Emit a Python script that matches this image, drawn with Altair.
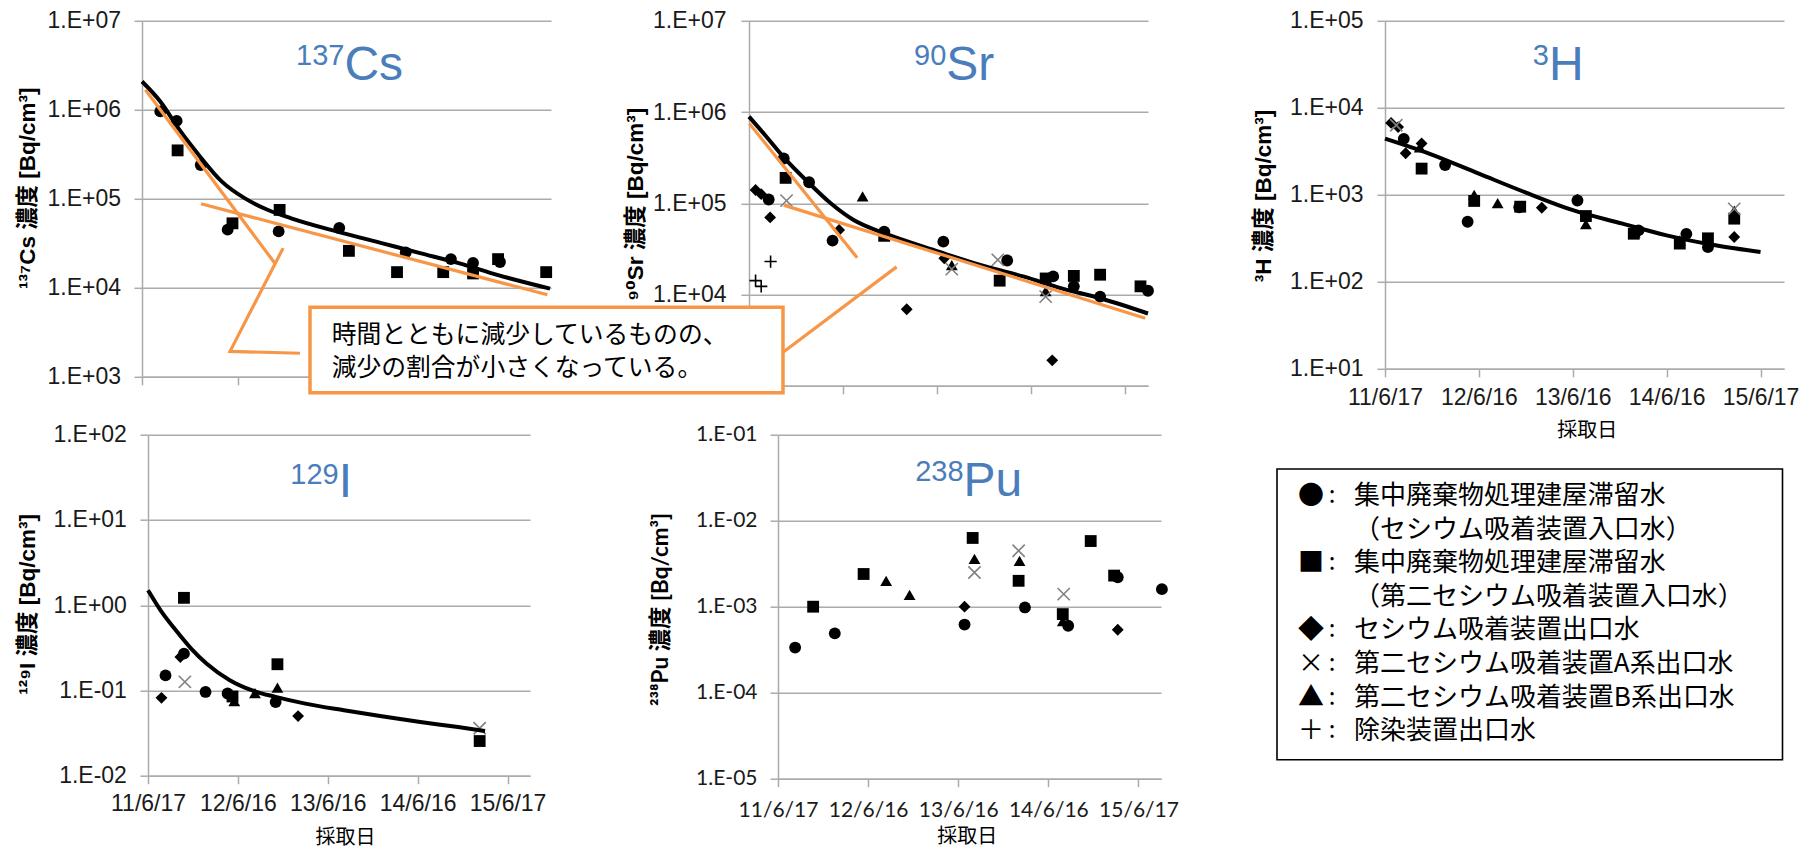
import altair as alt
import pandas as pd

# ---------------- data ----------------
X_TICK_VALUES = [0, 1, 2, 3, 4]          # years since 2011-06-17
X_TICK_LABELS = ["11/6/17", "12/6/16", "13/6/16", "14/6/16", "15/6/17"]
SERIES_CODES = ["c", "s", "d", "x", "t", "p"]   # ●, ■, ◆, ×, ▲, ＋

PANEL_SUPS = ["137", "90", "3", "129", "238"]
PANEL_MAINS = ["Cs", "Sr", "H", "I", "Pu"]
Y_TITLES = ["¹³⁷Cs 濃度 [Bq/cm³]", "⁹⁰Sr 濃度 [Bq/cm³]", "³H 濃度 [Bq/cm³]",
            "¹²⁹I 濃度 [Bq/cm³]", "²³⁸Pu 濃度 [Bq/cm³]"]
X_TITLE = "採取日"

CS_YLABELS = ["1.E+03", "1.E+04", "1.E+05", "1.E+06", "1.E+07"]
SR_YLABELS = ["", "1.E+04", "1.E+05", "1.E+06", "1.E+07"]   # 1.E+03 hidden by the callout
H_YLABELS = ["1.E+01", "1.E+02", "1.E+03", "1.E+04", "1.E+05"]
I_YLABELS = ["1.E-02", "1.E-01", "1.E+00", "1.E+01", "1.E+02"]
PU_YLABELS = ["1.E-05", "1.E-04", "1.E-03", "1.E-02", "1.E-01"]

# 137Cs
CS_T = [0.19, 0.36, 0.61, 0.89, 1.42, 2.05, 2.74, 3.21, 3.44, 3.72,
        0.37, 0.94, 1.43, 2.15, 2.65, 3.13, 3.44, 3.70, 4.20]
CS_V = [9.6e5, 7.5e5, 2.4e5, 4.5e4, 4.3e4, 4.7e4, 2.5e4, 2.1e4, 1.9e4, 1.95e4,
        3.5e5, 5.3e4, 7.5e4, 2.6e4, 1.5e4, 1.5e4, 1.45e4, 2.1e4, 1.5e4]
CS_S = ["c", "c", "c", "c", "c", "c", "c", "c", "c", "c",
        "s", "s", "s", "s", "s", "s", "s", "s", "s"]
CS_FIT_T = [0.0, 0.19, 0.39, 0.59, 0.83, 1.07, 1.31, 1.55, 2.03, 2.50, 2.90, 3.30, 3.70, 4.24]
CS_FIT_V = [2.08e6, 1.24e6, 5.94e5, 3.11e5, 1.56e5, 1.01e5, 7.48e4, 6.04e4, 4.28e4,
            3.16e4, 2.44e4, 1.88e4, 1.39e4, 9.8e3]
CS_TREND_T = [0.035, 1.38, 0.613, 4.213, 1.466, 0.915, 1.642]
CS_TREND_V = [1.68e6, 1.89e4, 8.79e4, 8.34e3, 2.79e4, 1.93e3, 1.84e3]
CS_TREND_G = ["steep", "steep", "shallow", "shallow", "pointer", "pointer", "pointer"]

# 90Sr
SR_T = [0.37, 0.64, 0.21, 0.89, 1.44, 2.07, 2.75, 3.24, 3.46, 3.74, 4.25,
        0.39, 1.44, 2.67, 3.16, 3.46, 3.74, 4.17,
        0.07, 0.13, 0.225, 0.96, 2.08, 1.68, 3.23,
        0.40, 2.16, 2.65, 3.16,
        1.21, 2.16, 3.16,
        0.07, 0.13, 0.23]
SR_V = [3.1e5, 1.7e5, 1.1e5, 3.9e4, 4.9e4, 3.8e4, 2.36e4, 1.58e4, 1.23e4, 9.5e3, 1.1e4,
        1.9e5, 4.4e4, 1.42e4, 1.5e4, 1.6e4, 1.65e4, 1.23e4,
        1.4e5, 1.26e5, 7.0e4, 5.1e4, 2.5e4, 6.9e3, 1.9e3,
        1.07e5, 1.9e4, 2.4e4, 9.5e3,
        1.19e5, 2.1e4, 1.09e4,
        1.42e4, 1.23e4, 2.3e4]
SR_S = ["c", "c", "c", "c", "c", "c", "c", "c", "c", "c", "c",
        "s", "s", "s", "s", "s", "s", "s",
        "d", "d", "d", "d", "d", "d", "d",
        "x", "x", "x", "x",
        "t", "t", "t",
        "p", "p", "p"]
SR_FIT_T = [0.0, 0.17, 0.38, 0.62, 0.87, 1.11, 1.44, 2.02, 2.51, 2.92, 3.33, 3.74, 4.25]
SR_FIT_V = [8.9e5, 5.6e5, 3.1e5, 1.74e5, 1.0e5, 6.6e4, 4.7e4, 2.95e4, 2.04e4, 1.58e4,
            1.17e4, 9.1e3, 6.2e3]
SR_TREND_T = [0.003, 1.152, 0.37, 4.22, 0.37, 1.572]
SR_TREND_V = [7.5e5, 2.53e4, 9.55e4, 5.5e3, 2.36e3, 2.01e4]
SR_TREND_G = ["steep", "steep", "shallow", "shallow", "pointer", "pointer"]

# 3H
H_T = [0.20, 0.64, 0.88, 1.43, 2.05, 2.70, 3.21, 3.44,
       0.39, 0.95, 1.44, 2.14, 2.65, 3.14, 3.44, 3.72,
       0.065, 0.14, 0.22, 0.39, 1.67, 2.05, 3.72,
       0.12, 3.72,
       0.37, 0.95, 1.20, 2.14, 2.66, 3.14, 3.72]
H_V = [4.4e3, 2.2e3, 490, 720, 860, 390, 355, 250,
       2.0e3, 850, 730, 570, 357, 275, 316, 532,
       6.7e3, 6.0e3, 3.0e3, 3.9e3, 710, 880, 327,
       6.3e3, 690,
       3.5e3, 1.0e3, 800, 460, 370, 300, 660]
H_S = ["c", "c", "c", "c", "c", "c", "c", "c",
       "s", "s", "s", "s", "s", "s", "s", "s",
       "d", "d", "d", "d", "d", "d", "d",
       "x", "x",
       "t", "t", "t", "t", "t", "t", "t"]
H_FIT_T = [0.0, 0.47, 1.0, 1.53, 2.01, 2.53, 3.0, 3.52, 4.0]
H_FIT_V = [4.43e3, 2.98e3, 1.75e3, 1.03e3, 661, 466, 342, 263, 220]

# 129I
I_T = [0.195, 0.40, 0.64, 0.886, 1.42,
       0.40, 0.94, 1.44, 3.69,
       0.15, 0.36, 1.67,
       0.41, 3.69,
       0.96, 1.19, 1.44]
I_V = [0.15, 0.27, 0.096, 0.092, 0.073,
       1.22, 0.085, 0.203, 0.0255,
       0.082, 0.247, 0.05,
       0.126, 0.036,
       0.075, 0.093, 0.108]
I_S = ["c", "c", "c", "c", "c",
       "s", "s", "s", "s",
       "d", "d", "d",
       "x", "x",
       "t", "t", "t"]
I_FIT_T = [0.0, 0.14, 0.31, 0.48, 0.65, 0.91, 1.16, 1.42, 1.75, 2.18, 2.60, 3.03, 3.45, 3.75]
I_FIT_V = [1.5, 0.871, 0.508, 0.31, 0.207, 0.132, 0.1, 0.084, 0.07, 0.0585, 0.0498,
           0.0427, 0.0372, 0.0334]

# 238Pu
PU_T = [0.19, 0.63, 2.07, 2.74, 3.22, 3.77, 4.26,
        0.39, 0.95, 2.16, 2.67, 3.16, 3.47, 3.73,
        2.07, 3.77,
        2.18, 2.67, 3.17,
        1.20, 1.46, 2.18, 2.68, 3.16]
PU_V = [3.35e-4, 4.9e-4, 6.2e-4, 9.8e-4, 6.0e-4, 2.2e-3, 1.6e-3,
        1.0e-3, 2.4e-3, 6.3e-3, 2.0e-3, 8.2e-4, 5.8e-3, 2.3e-3,
        1.0e-3, 5.4e-4,
        2.5e-3, 4.47e-3, 1.4e-3,
        2.0e-3, 1.37e-3, 3.6e-3, 3.4e-3, 6.8e-4]
PU_S = ["c", "c", "c", "c", "c", "c", "c",
        "s", "s", "s", "s", "s", "s", "s",
        "d", "d",
        "x", "x", "x",
        "t", "t", "t", "t", "t"]

CALLOUT_LINES = ["時間とともに減少しているものの、", "減少の割合が小さくなっている。"]

LEGEND_ROWS = [0, 1, 2, 3, 4, 5, 6, 7]
LEGEND_SYMBOLS = ["●", "", "■", "", "◆", "×", "▲", "＋"]
LEGEND_COLONS = [":", "", ":", "", ":", ":", ":", ":"]
LEGEND_TEXTS = ["集中廃棄物処理建屋滞留水", "（セシウム吸着装置入口水）",
                "集中廃棄物処理建屋滞留水", "（第二セシウム吸着装置入口水）",
                "セシウム吸着装置出口水", "第二セシウム吸着装置A系出口水",
                "第二セシウム吸着装置B系出口水", "除染装置出口水"]

# ---------------- styles ----------------
SHAPES = ["circle", "square", "diamond", "M-1,-1L1,1M-1,1L1,-1", "triangle-up", "M-1,0L1,0M0,-1L0,1"]
COLORS = ["#000000", "#000000", "#000000", "#808080", "#000000", "#000000"]
GRID = "#ababab"
ORANGE = "#f79646"
BLUE = "#4a7ebb"
SANS = "Liberation Sans, DejaVu Sans, Noto Sans CJK JP"
LATO = "Lato, DejaVu Sans, Noto Sans CJK JP"
CJK = "Noto Sans CJK JP"

XLABEL_EXPR = "[" + ",".join("'%s'" % s for s in X_TICK_LABELS) + "][round(datum.value)]"


def ylabel_expr(labels, minexp):
    arr = "[" + ",".join("'%s'" % s for s in labels) + "]"
    return arr + "[round(log(datum.value)/LN10) - (" + str(minexp) + ")]"


def panel(t, v, s, fit, trend, exps, ylabels, w, h, idx, ytitle_pos, title_pos,
          show_xlabels, xtitle_pos=None, xlabel_pad=20, ylabel_pad=14,
          tick_font=SANS, tick_size=23, ytitle_font=SANS, extra=()):
    lo, hi = exps
    yvals = [10.0 ** e for e in range(lo, hi + 1)]
    xkw = dict(values=X_TICK_VALUES, labelExpr=XLABEL_EXPR, labels=show_xlabels, grid=False,
               domainColor=GRID, domainWidth=1.5, tickColor=GRID, tickWidth=1.5, tickSize=8,
               labelFont=tick_font, labelFontSize=tick_size, labelColor="#1a1a1a",
               labelBaseline="middle", labelPadding=xlabel_pad, labelFlush=False,
               labelOverlap=False)
    if xtitle_pos is not None:
        xkw.update(title=X_TITLE, titleFont=CJK, titleFontSize=20, titleFontWeight="normal",
                   titleColor="#000000", titleX=xtitle_pos[0], titleY=xtitle_pos[1],
                   titleAlign="center", titleBaseline="middle")
    else:
        xkw.update(title=None)
    xaxis = alt.Axis(**xkw)
    yaxis = alt.Axis(values=yvals, labelExpr=ylabel_expr(ylabels, lo), grid=True,
                     gridColor=GRID, gridWidth=1.5, domainColor=GRID, domainWidth=1.5,
                     tickColor=GRID, tickWidth=1.5, tickSize=8, labelFont=tick_font,
                     labelFontSize=tick_size, labelColor="#1a1a1a", labelPadding=ylabel_pad,
                     labelOverlap=False, title=Y_TITLES[idx], titleFont=ytitle_font,
                     titleFontSize=22.5, titleFontWeight="bold", titleColor="#000000",
                     titleX=ytitle_pos[0], titleY=ytitle_pos[1], titleAngle=-90,
                     titleAlign="center", titleBaseline="middle")
    X = alt.X("t:Q", scale=alt.Scale(domain=[0, 4.25], nice=False, zero=False), axis=xaxis)
    Y = alt.Y("v:Q", scale=alt.Scale(type="log", domain=[10.0 ** lo, 10.0 ** hi], nice=False),
              axis=yaxis)
    shape = alt.Shape("s:N", scale=alt.Scale(domain=SERIES_CODES, range=SHAPES), legend=None)
    color = alt.Color("s:N", scale=alt.Scale(domain=SERIES_CODES, range=COLORS), legend=None)

    pts = pd.DataFrame({"t": t, "v": v, "s": s})
    layers = []
    layers.append(alt.Chart(pts).transform_filter(
        alt.FieldOneOfPredicate(field="s", oneOf=["c", "s", "d", "t"])
    ).mark_point(filled=True, size=140, opacity=1, strokeWidth=0).encode(
        x=X, y=Y, shape=shape, color=color))
    layers.append(alt.Chart(pts).transform_filter(
        alt.FieldOneOfPredicate(field="s", oneOf=["x", "p"])
    ).mark_point(filled=False, size=150, opacity=1, strokeWidth=1.6).encode(
        x=X, y=Y, shape=shape, color=color))
    if fit is not None:
        fdf = pd.DataFrame({"t": fit[0], "v": fit[1]})
        layers.append(alt.Chart(fdf).mark_line(color="black", strokeWidth=4,
                                               interpolate="monotone").encode(x=X, y=Y))
    if trend is not None:
        tdf = pd.DataFrame({"t": trend[0], "v": trend[1], "g": trend[2],
                            "o": list(range(len(trend[0])))})
        layers.append(alt.Chart(tdf).mark_line(color=ORANGE, strokeWidth=3.2).encode(
            x=X, y=Y, detail="g:N", order="o:Q"))
    ttl = pd.DataFrame({"sup": [PANEL_SUPS[idx]], "main": [PANEL_MAINS[idx]]})
    layers.append(alt.Chart(ttl).mark_text(align="right", baseline="alphabetic", fontSize=29,
                                           font=SANS, color=BLUE).encode(
        x=alt.value(title_pos[0]), y=alt.value(title_pos[1]), text="sup:N"))
    layers.append(alt.Chart(ttl).mark_text(align="left", baseline="alphabetic", fontSize=48,
                                           font=SANS, color=BLUE).encode(
        x=alt.value(title_pos[0]), y=alt.value(title_pos[2]), text="main:N"))
    layers.extend(extra)
    return alt.layer(*layers).properties(width=w, height=h)


def spacer(w):
    return alt.Chart(pd.DataFrame({"a": [0]})).mark_point(opacity=0).encode(
        x=alt.value(0), y=alt.value(0)).properties(width=w, height=10)


one = pd.DataFrame({"a": [0]})
callout = [
    alt.Chart(one).mark_rect(fill="white", stroke=ORANGE, strokeWidth=3.5).encode(
        x=alt.value(-439), x2=alt.value(34), y=alt.value(286.5), y2=alt.value(371.9)),
    alt.Chart(pd.DataFrame({"txt": [CALLOUT_LINES[0]]})).mark_text(
        font=CJK, fontSize=24.8, align="left", baseline="middle", color="black").encode(
        x=alt.value(-417.3), y=alt.value(315.1), text="txt:N"),
    alt.Chart(pd.DataFrame({"txt": [CALLOUT_LINES[1]]})).mark_text(
        font=CJK, fontSize=24.8, align="left", baseline="middle", color="black").encode(
        x=alt.value(-417.3), y=alt.value(348.1), text="txt:N"),
]

cs = panel(CS_T, CS_V, CS_S, (CS_FIT_T, CS_FIT_V), (CS_TREND_T, CS_TREND_V, CS_TREND_G),
           (3, 7), CS_YLABELS, 409, 356, 0, (-115, 167), (202.4, 44, 59), False,
           ylabel_pad=13.5)
sr = panel(SR_T, SR_V, SR_S, (SR_FIT_T, SR_FIT_V), (SR_TREND_T, SR_TREND_V, SR_TREND_G),
           (3, 7), SR_YLABELS, 399, 365, 1, (-113.5, 183), (197.3, 44, 59), False,
           ylabel_pad=15, extra=callout)
hp = panel(H_T, H_V, H_S, (H_FIT_T, H_FIT_V), None,
           (1, 5), H_YLABELS, 399, 348, 2, (-121, 174.7), (164, 44, 59), True,
           xtitle_pos=(201.7, 61.7), xlabel_pad=20.4, ylabel_pad=14)
ip = panel(I_T, I_V, I_S, (I_FIT_T, I_FIT_V), None,
           (-2, 2), I_YLABELS, 382, 341, 3, (-121, 169.2), (190.7, 49.2, 62.2), True,
           xtitle_pos=(197, 61.4), xlabel_pad=20, ylabel_pad=13.6)
pu = panel(PU_T, PU_V, PU_S, None, None,
           (-5, -1), PU_YLABELS, 383, 344, 4, (-117.5, 174.2), (185.6, 45.9, 61.5), True,
           xtitle_pos=(188.7, 58), xlabel_pad=23.7, ylabel_pad=13,
           tick_font=LATO, tick_size=21, ytitle_font=LATO)

leg_df = pd.DataFrame({"row": LEGEND_ROWS, "sym": LEGEND_SYMBOLS, "colon": LEGEND_COLONS,
                       "txt": LEGEND_TEXTS})
yrow = alt.Y("row:Q", scale=alt.Scale(domain=[0, 7], range=[61.5, 296.5]), axis=None)
legend = alt.layer(
    alt.Chart(one).mark_rect(fill="white", stroke="black", strokeWidth=1.6).encode(
        x=alt.value(0), x2=alt.value(505.5), y=alt.value(34.3), y2=alt.value(325)),
    alt.Chart(leg_df).mark_text(font=CJK, fontSize=26, align="center", baseline="middle",
                                color="black").encode(x=alt.value(34), y=yrow, text="sym:N"),
    alt.Chart(leg_df).mark_text(font=CJK, fontSize=24, align="center", baseline="middle",
                                color="black").encode(x=alt.value(55), y=yrow, text="colon:N"),
    alt.Chart(leg_df).mark_text(font=CJK, fontSize=26, align="left", baseline="middle",
                                color="black").encode(x=alt.value(77), y=yrow, text="txt:N"),
).properties(width=506, height=330)

top_row = alt.hconcat(cs, spacer(198), sr, spacer(237), hp, spacing=0, bounds="flush")
bottom_row = alt.hconcat(spacer(6), ip, spacer(248), pu, spacer(116), legend,
                         spacing=0, bounds="flush")

# outer layout: flush bounds, rows placed by the spacing alone
chart = alt.vconcat(top_row, bottom_row, spacing=413.9, bounds="flush").properties(
    autosize=alt.AutoSizeParams(type="none"),
    padding={"left": 134, "top": 12.8, "right": 1662, "bottom": 829.5},
).configure_view(stroke=None)

chart.save("out.html", embed_options={"renderer": "svg", "actions": False})
